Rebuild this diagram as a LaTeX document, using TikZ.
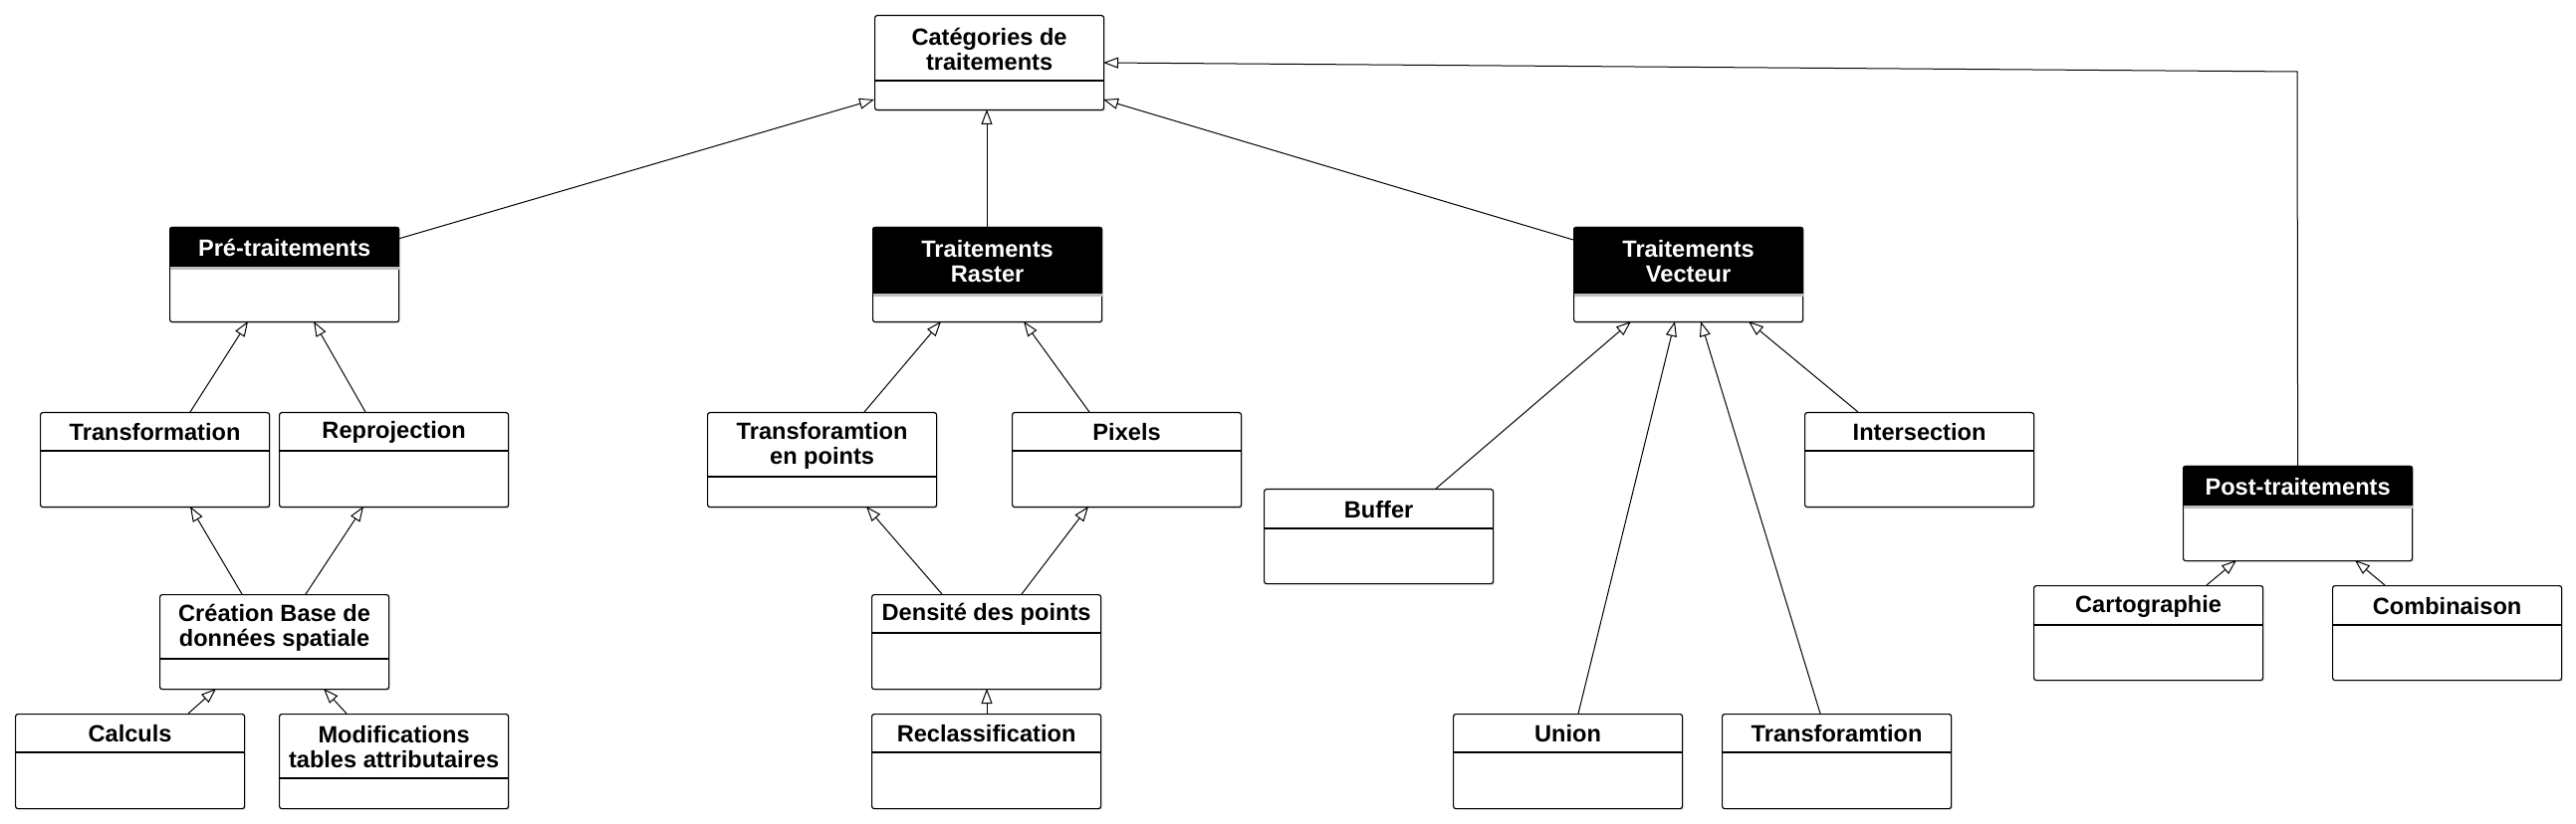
\documentclass[tikz,border=0pt]{standalone}
\usepackage{fontspec}
\setmainfont{Liberation Sans}
\usetikzlibrary{arrows.meta,calc,shadows}
\tikzset{
  clsbox/.style={draw=black, line width=0.6pt, fill=white, rounded corners=1.2pt,
    anchor=north west, minimum width=115pt, minimum height=47.5pt, inner sep=0pt,
    drop shadow={shadow xshift=0.8pt, shadow yshift=-0.8pt, opacity=0.18}},
  clstext/.style={align=center, inner sep=0pt, font=\bfseries\fontsize{11.8}{12.5}\selectfont},
  gen/.style={draw=black, line width=0.5pt, -{Triangle[open, length=7.5pt, width=5.5pt, fill=white]}},
  sepline/.style={draw=black, line width=1pt}
}
% name, x, y, header height (px), header text
\newcommand\whitecls[5]{%
  \node[clsbox] (#1) at (#2,#3) {};
  \draw[sepline] ($(#1.north west)+(0,#4)$) -- ($(#1.north east)+(0,#4)$);
  \node[clstext] (#1-t) at ($(#1.north)+(0,#4*0.5+1)$) {#5};
}
\newcommand\blackcls[5]{%
  \node[clsbox] (#1) at (#2,#3) {};
  \fill[black] ($(#1.north west)+(0,#4)$) [rounded corners=1.2pt] -- (#1.north west) -- (#1.north east) [sharp corners] -- ($(#1.north east)+(0,#4)$) -- cycle;
  \fill[black!25] ($(#1.north west)+(0.6,#4)$) rectangle ($(#1.north east)+(-0.6,#4+3)$);
  \node[clstext, text=white] (#1-t) at ($(#1.north)+(0,#4*0.5+1)$) {#5};
}
\begin{document}
\begin{tikzpicture}[x=0.5pt, y=-0.5pt]
\useasboundingbox (0,0) rectangle (2587,828);
\fill[white] (0,0) rectangle (2587,828);

\whitecls{cat}{878}{15}{66}{Catégories de\\traitements}
\blackcls{pre}{170}{228}{40}{Pré-traitements}
\blackcls{ras}{876}{228}{67}{Traitements\\Raster}
\blackcls{vec}{1580}{228}{67}{Traitements\\Vecteur}
\blackcls{post}{2192}{468}{40}{Post-traitements}

\whitecls{trf}{40}{414}{39}{Transformation}
\whitecls{rep}{280}{414}{39}{Reprojection}
\whitecls{tep}{710}{414}{65}{Transforamtion\\en points}
\whitecls{pix}{1016}{414}{39}{Pixels}
\whitecls{cre}{160}{597}{65}{Création Base de\\données spatiale}
\whitecls{den}{875}{597}{39}{Densité des points}
\whitecls{cal}{15}{717}{39}{Calculs}
\whitecls{mod}{280}{717}{65}{Modifications\\tables attributaires}
\whitecls{rec}{875}{717}{39}{Reclassification}
\whitecls{buf}{1269}{491}{40}{Buffer}
\whitecls{int}{1812}{414}{39}{Intersection}
\whitecls{uni}{1459}{717}{39}{Union}
\whitecls{tra}{1729}{717}{39}{Transforamtion}
\whitecls{car}{2042}{588}{40}{Cartographie}
\whitecls{com}{2342}{588}{40}{Combinaison}

\coordinate (bend) at (2307,72);

% to Catégories
\draw[gen] ($(pre.north west)+(230,12)$) -- ($(cat.north west)+(0,85)$);
\draw[gen] ($(ras.north west)+(115,0)$) -- ($(cat.north west)+(113,95)$);
\draw[gen] ($(vec.north west)+(0,13)$) -- ($(cat.north west)+(230,85)$);
\draw[gen] (post.north) -- (bend) -- ($(cat.north west)+(230,48)$);

% Pré-traitements branch
\draw[gen] ($(trf.north west)+(151,0)$) -- ($(pre.north west)+(79,95)$);
\draw[gen] ($(rep.north west)+(87,0)$) -- ($(pre.north west)+(145,95)$);
\draw[gen] ($(cre.north west)+(83,0)$) -- ($(trf.north west)+(151,95)$);
\draw[gen] ($(cre.north west)+(147,0)$) -- ($(rep.north west)+(85,95)$);
\draw[gen] ($(cal.north west)+(174,0)$) -- ($(cre.north west)+(57,95)$);
\draw[gen] ($(mod.north west)+(68,0)$) -- ($(cre.north west)+(165,95)$);

% Raster branch
\draw[gen] ($(tep.north west)+(158,0)$) -- ($(ras.north west)+(69,95)$);
\draw[gen] ($(pix.north west)+(78,0)$) -- ($(ras.north west)+(152,95)$);
\draw[gen] ($(den.north west)+(71,0)$) -- ($(tep.north west)+(160,95)$);
\draw[gen] ($(den.north west)+(151,0)$) -- ($(pix.north west)+(77,95)$);
\draw[gen] ($(rec.north west)+(116,0)$) -- ($(den.north west)+(116,95)$);

% Vecteur branch
\draw[gen] ($(buf.north west)+(173,0)$) -- ($(vec.north west)+(58,95)$);
\draw[gen] ($(uni.north west)+(126,0)$) -- ($(vec.north west)+(102,95)$);
\draw[gen] ($(tra.north west)+(99,0)$) -- ($(vec.north west)+(128,95)$);
\draw[gen] ($(int.north west)+(54,0)$) -- ($(vec.north west)+(176,95)$);

% Post-traitements branch
\draw[gen] ($(car.north west)+(174,0)$) -- ($(post.north west)+(54,95)$);
\draw[gen] ($(com.north west)+(53,0)$) -- ($(post.north west)+(173,95)$);
\end{tikzpicture}
\end{document}
